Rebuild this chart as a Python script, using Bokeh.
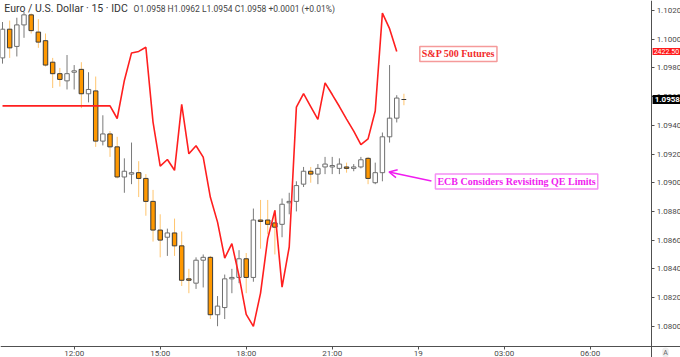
from bokeh.plotting import figure
from bokeh.models import (Range1d, FixedTicker, PrintfTickFormatter, Label, Arrow,
                          OpenHead, ColumnDataSource, LinearAxis)
from bokeh.embed import file_html
from bokeh.resources import INLINE

# ---------------- data (15-minute bars, EUR/USD) ----------------
bar_times = ["09:30", "09:45", "10:00", "10:15", "10:30", "10:45", "11:00", "11:15",
             "11:30", "11:45", "12:00", "12:15", "12:30", "12:45", "13:00", "13:15",
             "13:30", "13:45", "14:00", "14:15", "14:30", "14:45", "15:00", "15:15",
             "15:30", "15:45", "16:00", "16:15", "16:30", "16:45", "17:00", "17:15",
             "17:30", "17:45", "18:00", "18:15", "18:30", "18:45", "19:00", "19:15",
             "19:30", "19:45", "20:00", "20:15", "20:30", "20:45", "21:00", "21:15",
             "21:30", "21:45", "22:00", "22:15", "22:30", "22:45", "23:00", "23:15",
             "23:30"]

opens = [1.0987, 1.1007, 1.0995, 1.1010, 1.1017, 1.1005, 1.0999, 1.0984, 1.0976, 1.0971,
         1.0977, 1.0979, 1.0962, 1.0964, 1.0929, 1.0934, 1.0925, 1.0904, 1.0906, 1.0907,
         1.0903, 1.0887, 1.0867, 1.0862, 1.0865, 1.0856, 1.0833, 1.0830, 1.0846, 1.0848,
         1.0808, 1.0813, 1.0833, 1.0834, 1.0847, 1.0834, 1.0874, 1.0874, 1.0872, 1.0871,
         1.0886, 1.0887, 1.0899, 1.0908, 1.0906, 1.0911, 1.0911, 1.0910, 1.0911, 1.0910,
         1.0911, 1.0917, 1.0900, 1.0907, 1.0932, 1.0945, 1.0958]
highs = [1.1012, 1.1013, 1.1015, 1.1019, 1.1018, 1.1014, 1.1004, 1.0987, 1.0980, 1.0989,
         1.0982, 1.0984, 1.0977, 1.0974, 1.0947, 1.0936, 1.0932, 1.0917, 1.0928, 1.0915,
         1.0906, 1.0895, 1.0878, 1.0868, 1.0875, 1.0866, 1.0840, 1.0848, 1.0850, 1.0849,
         1.0821, 1.0836, 1.0840, 1.0853, 1.0851, 1.0882, 1.0888, 1.0888, 1.0881, 1.0889,
         1.0893, 1.0901, 1.0911, 1.0911, 1.0913, 1.0918, 1.0918, 1.0917, 1.0914, 1.0913,
         1.0918, 1.0918, 1.0914, 1.0935, 1.0982, 1.0961, 1.0962]
lows = [1.0983, 1.0987, 1.0988, 1.1001, 1.1004, 1.0994, 1.0981, 1.0966, 1.0967, 1.0965,
        1.0965, 1.0952, 1.0956, 1.0925, 1.0926, 1.0918, 1.0903, 1.0893, 1.0899, 1.0890,
        1.0877, 1.0859, 1.0848, 1.0849, 1.0849, 1.0828, 1.0823, 1.0826, 1.0827, 1.0805,
        1.0800, 1.0805, 1.0823, 1.0830, 1.0823, 1.0831, 1.0854, 1.0864, 1.0850, 1.0862,
        1.0878, 1.0880, 1.0897, 1.0900, 1.0899, 1.0906, 1.0906, 1.0906, 1.0907, 1.0908,
        1.0910, 1.0899, 1.0899, 1.0901, 1.0928, 1.0942, 1.0954]
closes = [1.1007, 1.0994, 1.1010, 1.1017, 1.1006, 1.0998, 1.0982, 1.0976, 1.0972, 1.0976,
          1.0978, 1.0962, 1.0965, 1.0929, 1.0934, 1.0925, 1.0904, 1.0908, 1.0907, 1.0903,
          1.0887, 1.0867, 1.0860, 1.0865, 1.0856, 1.0832, 1.0832, 1.0846, 1.0848, 1.0808,
          1.0814, 1.0833, 1.0834, 1.0847, 1.0834, 1.0874, 1.0873, 1.0871, 1.0869, 1.0885,
          1.0887, 1.0898, 1.0908, 1.0906, 1.0910, 1.0913, 1.0912, 1.0913, 1.0910, 1.0911,
          1.0916, 1.0903, 1.0907, 1.0932, 1.0945, 1.0959, 1.0958]

# S&P 500 futures overlay (own scale), same bar times; last bar has no value
nan = float("nan")
spx = [2420.68, 2420.68, 2420.68, 2420.68, 2420.68, 2420.68, 2420.68, 2420.68,
       2420.68, 2420.68, 2420.68, 2420.68, 2420.68, 2420.68, 2420.68, 2420.68,
       2420.26, 2421.53, 2422.45, 2422.50, 2422.64, 2420.14, 2418.67, 2418.89,
       2418.53, 2420.73, 2419.08, 2419.35, 2418.97, 2417.63, 2416.80, 2415.60,
       2416.08, 2415.00, 2413.72, 2413.32, 2414.43, 2416.25, 2417.19, 2414.63,
       2415.97, 2420.64, 2421.09, 2420.66, 2420.23, 2421.45, 2421.06, 2420.66,
       2420.24, 2419.84, 2419.39, 2419.58, 2420.51, 2423.78, 2423.26, 2422.50, nan]
spx_last = 2422.50

price_ticks = [1.0800, 1.0820, 1.0840, 1.0860, 1.0880, 1.0900, 1.0920, 1.0940,
               1.0960, 1.0980, 1.1000, 1.1020]
time_ticks = [12, 15, 18, 21, 24, 27, 30]
time_labels = ["12:00", "15:00", "18:00", "21:00", "19", "03:00", "06:00"]

# ---------------- derived ----------------
t = [int(s[:2]) + int(s[3:]) / 60.0 for s in bar_times]
ORANGE = "#ff9800"
fills, borders, wicks = [], [], []
prev = opens[0]
for o, c in zip(opens, closes):
    up = c > o or (c == o and c >= prev)
    fills.append("#ffffff" if up else ORANGE)
    borders.append("#6e6e6e" if up else "#3a3a3a")
    wicks.append("#7a7a7a" if up else "#ffc56e")
    prev = c

src = ColumnDataSource(dict(
    t=t, o=opens, h=highs, l=lows, c=closes,
    top=[max(a, b) for a, b in zip(opens, closes)],
    bottom=[min(a, b) for a, b in zip(opens, closes)],
    fill=fills, border=borders, wick=wicks))

# the frame spans the whole page; the two scales sit at fixed places inside it
X0, X1 = 9.43, 33.147
Y0, Y1 = 1.077819, 1.10270
XAX = 32.14        # price scale position (time)
YAX = 1.07859      # time scale position (price)

p = figure(width=680, height=357, output_backend="svg", toolbar_location=None,
           x_range=Range1d(X0, X1), y_range=Range1d(Y0, Y1),
           x_axis_location=None, y_axis_location=None,
           min_border_left=0, min_border_top=0, min_border_right=0, min_border_bottom=0)
p.extra_y_ranges = {"spx": Range1d(2412.28, 2424.20)}
p.xgrid.visible = False
p.ygrid.visible = False
p.outline_line_color = None
p.background_fill_color = "#ffffff"
p.border_fill_color = "#ffffff"

yax = LinearAxis(fixed_location=XAX, ticker=FixedTicker(ticks=price_ticks),
                 formatter=PrintfTickFormatter(format="%.4f"))
xax = LinearAxis(fixed_location=YAX, ticker=FixedTicker(ticks=time_ticks),
                 major_label_overrides={k: v for k, v in zip(time_ticks, time_labels)})
p.add_layout(yax, "right")
p.add_layout(xax, "below")

for ax in (xax, yax):
    ax.axis_line_color = "#505050"
    ax.axis_line_width = 1
    ax.major_tick_line_color = "#505050"
    ax.major_tick_out = 3
    ax.major_tick_in = 0
    ax.minor_tick_line_color = None
    ax.major_label_text_font = "Roboto"
    ax.major_label_text_font_size = "8px"
    ax.major_label_text_color = "#4a4a4a"
    ax.major_label_standoff = 2
xax.major_label_standoff = 0

# candles
p.segment(x0="t", y0="l", x1="t", y1="h", line_color="wick", line_width=1, source=src)
p.vbar(x="t", width=0.155, top="top", bottom="bottom", fill_color="fill",
       line_color="border", line_width=1, source=src)

# S&P overlay
p.line(t, spx, y_range_name="spx", line_color="#ff1f1f", line_width=1.6)

# header text
p.add_layout(Label(x=9.565, y=1.10214, text="Euro / U.S. Dollar · 15 · IDC",
                   text_font="Roboto", text_font_size="10.5px", text_color="#333333",
                   text_baseline="middle"))
p.add_layout(Label(x=14.07, y=1.10214,
                   text="O1.0958  H1.0962  L1.0954  C1.0958  +0.0001 (+0.01%)",
                   text_font="Roboto", text_font_size="8.5px", text_color="#444444",
                   text_baseline="middle"))

# annotation boxes
p.add_layout(Label(x=25.40, y=1.09898, text="S&P 500 Futures",
                   text_font="Liberation Serif", text_font_style="bold",
                   text_font_size="10px", text_color="#f22b2b",
                   text_align="center", text_baseline="middle",
                   background_fill_color="#ffffff", border_line_color="#f59a9a",
                   border_line_width=1.5, padding=2))
p.add_layout(Label(x=27.43, y=1.09008, text="ECB Considers Revisiting QE Limits",
                   text_font="Liberation Serif", text_font_style="bold",
                   text_font_size="10px", text_color="#f01cf0",
                   text_align="center", text_baseline="middle",
                   background_fill_color="#ffffff", border_line_color="#f58ff5",
                   border_line_width=1.5, padding=2))
p.add_layout(Arrow(end=OpenHead(size=8, line_color="#f01cf0", line_width=1.5),
                   x_start=24.46, y_start=1.09012, x_end=22.98, y_end=1.09075,
                   line_color="#f01cf0", line_width=1.5))

# price tags on the price scale
p.add_layout(Label(x=XAX, y=spx_last, y_range_name="spx", text="%.2f" % spx_last,
                   text_font="Roboto", text_font_size="7px", text_color="#ffffff",
                   text_baseline="middle", x_offset=1,
                   background_fill_color="#ff1a1a", padding=1))
p.add_layout(Label(x=XAX, y=closes[-1], text="%.4f" % closes[-1],
                   text_font="Roboto", text_font_size="8px", text_font_style="bold",
                   text_color="#ffffff", text_baseline="middle", x_offset=1,
                   background_fill_color="#000000", padding=2))

# auto-scale button
p.add_layout(Label(x=32.625, y=1.078167, text="A", text_font="Roboto",
                   text_font_size="7px", text_color="#666666",
                   text_align="center", text_baseline="middle",
                   background_fill_color="#eeeeee", border_radius=5, padding=1))

open("out.html", "w").write(file_html(p, INLINE))
